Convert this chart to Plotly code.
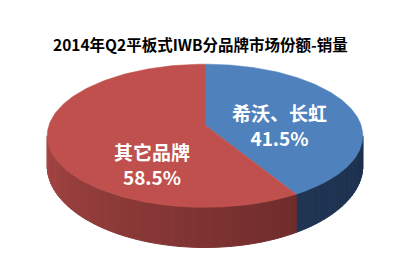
import numpy as np
import plotly.graph_objects as go

# ---- data ----
labels = ["希沃、长虹", "其它品牌"]
shares = [41.5, 58.5]
pct_text = ["41.5%", "58.5%"]
title = "2014年Q2平板式IWB分品牌市场份额-销量"

# ---- style ----
W, H = 400, 278
top_colors = ["#4F81BD", "#C0504D"]
side_light = [(40, 64, 98), (166, 70, 68)]
side_dark = [(29, 49, 78), (86, 33, 32)]
AX, AY = 205, 125        # apex of pie on screen (pixels, y down)
A, B, P = 156, 70, 0.15  # half-width, half-depth, perspective factor
T, K = 29, 2.0           # side thickness model
label_pos = [(279, 125), (152, 164)]
FONT = "Noto Sans CJK SC"


def top_pt(t):
    u, v = np.sin(t), np.cos(t)
    s = 1.0 / (1.0 + P * v)
    return AX + A * u * s, AY - B * v * s


def bot_pt(t):
    u, v = np.sin(t), np.cos(t)
    s = 1.0 / (1.0 + P * v)
    x, y = top_pt(t)
    return x, y + T * s ** K


def up(y):
    return H - y


fig = go.Figure()

fr = np.array(shares) / sum(shares)
starts = np.concatenate([[0], np.cumsum(fr)[:-1]]) * 2 * np.pi
ends = np.cumsum(fr) * 2 * np.pi

th0 = np.arccos(-P)
th1 = 2 * np.pi - th0

# side faces
for i in range(len(shares)):
    a = max(starts[i], th0)
    b = min(ends[i], th1)
    if b <= a:
        continue
    n = max(4, int((b - a) / (np.pi / 90)))
    edges = np.linspace(a, b, n + 1)
    for k in range(n):
        ts = np.linspace(edges[k], edges[k + 1], 4)
        s = (edges[k] + edges[k + 1]) / 2
        u = (s - th0) / (th1 - th0)  # 0 at right, 1 at left
        c0, c1 = np.array(side_dark[i]), np.array(side_light[i])
        c = (c0 + (c1 - c0) * u).astype(int)
        col = f"rgb({c[0]},{c[1]},{c[2]})"
        tp = [top_pt(t) for t in ts]
        bp = [bot_pt(t) for t in ts[::-1]]
        xs = [p[0] for p in tp] + [p[0] for p in bp]
        ys = [up(p[1]) for p in tp] + [up(p[1]) for p in bp]
        fig.add_trace(go.Scatter(x=xs + [xs[0]], y=ys + [ys[0]], mode="lines",
                                 fill="toself", fillcolor=col,
                                 line=dict(color=col, width=1),
                                 hoverinfo="skip", showlegend=False))

# top faces
for i in range(len(shares)):
    ts = np.linspace(starts[i], ends[i], 160)
    pts = [top_pt(t) for t in ts]
    xs = [AX] + [p[0] for p in pts] + [AX]
    ys = [up(AY)] + [up(p[1]) for p in pts] + [up(AY)]
    fig.add_trace(go.Scatter(x=xs, y=ys, mode="lines", fill="toself",
                             fillcolor=top_colors[i],
                             line=dict(color=top_colors[i], width=0.5),
                             hoverinfo="text", text=f"{labels[i]} {pct_text[i]}",
                             showlegend=False))

annotations = [dict(x=200, y=up(44), text=f"<b>{title}</b>", showarrow=False,
                    font=dict(family=FONT, size=15.5, color="#000000"),
                    xref="x", yref="y")]
for i in range(len(shares)):
    lx, ly = label_pos[i]
    annotations.append(dict(x=lx, y=up(ly), text=f"<b>{labels[i]}<br>{pct_text[i]}</b>",
                            showarrow=False, xref="x", yref="y",
                            font=dict(family=FONT, size=19, color="#FFFFFF")))

fig.update_layout(
    width=W, height=H, margin=dict(l=0, r=0, t=0, b=0),
    paper_bgcolor="white", plot_bgcolor="white",
    xaxis=dict(range=[0, W], visible=False, fixedrange=True),
    yaxis=dict(range=[0, H], visible=False, fixedrange=True),
    annotations=annotations,
)
fig.write_html("out.html")
